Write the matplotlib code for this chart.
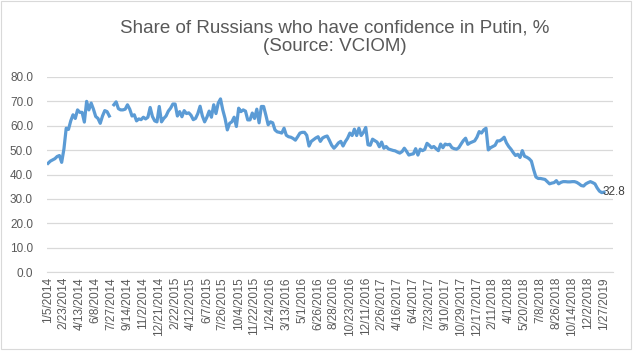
import numpy as np
import matplotlib.pyplot as plt
from matplotlib.patches import Rectangle

# weekly VCIOM readings (NaN = missing poll)
confidence = [
    44.6, 45.5, 46.0, 46.5, 47.4, 47.8, 45.0, 50.5, 59.0, 58.5,
    62.0, 64.5, 63.0, 66.5, 65.5, 65.5, 61.5, 70.0, 66.5, 69.3,
    66.8, 63.8, 63.0, 61.0, 64.0, 66.2, 65.8, 64.0, np.nan, 68.6,
    69.8, 67.0, 66.5, 66.5, 66.8, 68.6, 66.8, 64.0, 64.5, 62.0,
    62.8, 62.5, 63.5, 62.8, 63.5, 67.5, 63.8, 62.0, 61.6, 67.9,
    61.6, 63.0, 64.0, 66.0, 67.2, 68.9, 68.9, 64.0, 65.8, 63.7,
    66.2, 65.0, 65.3, 64.3, 62.5, 63.0, 65.0, 68.0, 64.0, 61.6,
    63.5, 66.0, 63.5, 68.6, 65.0, 69.3, 71.0, 66.5, 63.0, 58.3,
    61.0, 61.6, 63.5, 59.7, 67.2, 65.8, 66.5, 66.0, 62.4, 62.4,
    65.2, 63.0, 66.8, 61.2, 67.9, 67.9, 64.3, 60.4, 61.6, 61.2,
    58.3, 57.5, 57.3, 57.0, 59.0, 56.1, 55.5, 55.3, 54.8, 54.1,
    55.5, 57.0, 57.3, 57.3, 56.1, 51.7, 53.6, 54.3, 55.0, 55.5,
    53.6, 55.0, 55.5, 55.8, 54.0, 52.0, 50.8, 51.8, 53.0, 53.6,
    51.7, 53.5, 54.9, 57.0, 56.0, 58.6, 56.0, 59.0, 56.0, 57.3,
    59.3, 52.2, 52.0, 54.5, 53.9, 53.3, 51.4, 53.3, 50.8, 51.5,
    50.5, 50.2, 49.9, 49.7, 49.2, 48.8, 49.4, 50.8, 49.5, 48.0,
    48.3, 48.5, 50.6, 48.0, 50.4, 49.8, 50.3, 52.8, 52.0, 51.0,
    51.5, 50.6, 49.8, 52.5, 51.0, 52.5, 52.2, 52.4, 51.0, 50.6,
    50.4, 51.0, 52.5, 53.9, 54.9, 52.4, 53.0, 53.4, 53.8, 55.3,
    57.6, 57.0, 58.3, 59.0, 50.1, 51.0, 51.5, 52.0, 53.8, 53.8,
    54.4, 55.3, 53.0, 51.5, 50.4, 49.0, 47.8, 48.3, 47.0, 49.8,
    47.5, 47.1, 46.5, 45.5, 42.0, 39.0, 38.4, 38.4, 38.2, 38.0,
    37.1, 36.2, 36.5, 36.7, 37.5, 36.2, 36.8, 37.1, 37.1, 37.0,
    37.0, 37.1, 37.1, 36.8, 36.2, 35.5, 35.3, 36.2, 36.7, 37.1,
    36.7, 36.2, 34.5, 33.2, 32.6, 32.8,
]

# every 7th poll date is labelled on the axis
tick_labels = [
    '1/5/2014', '2/23/2014', '4/13/2014', '6/8/2014', '7/27/2014', '9/14/2014',
    '11/2/2014', '12/21/2014', '2/22/2015', '4/12/2015', '6/7/2015', '7/26/2015',
    '10/4/2015', '11/22/2015', '1/24/2016', '3/13/2016', '5/1/2016', '6/26/2016',
    '8/28/2016', '10/23/2016', '12/11/2016', '2/26/2017', '4/16/2017', '6/4/2017',
    '7/23/2017', '9/10/2017', '10/29/2017', '12/17/2017', '2/11/2018', '4/1/2018',
    '5/20/2018', '7/8/2018', '8/26/2018', '10/14/2018', '12/2/2018', '1/27/2019',
]

grey = '#595959'
plt.rcParams['font.family'] = ['Liberation Sans', 'DejaVu Sans']

fig = plt.figure(figsize=(6.34, 3.53), dpi=100)
ax = fig.add_axes([0.074, 0.229, 0.893, 0.553])

x = np.arange(len(confidence))
ax.plot(x, confidence, color='#5B9BD5', lw=2.3, solid_joinstyle='round')
ax.annotate(f'{confidence[-1]:.1f}', (x[-1], confidence[-1]), xytext=(-1, 0),
            textcoords='offset points', va='center', ha='left',
            fontsize=8.5, color='#404040')

ax.set_ylim(0, 80)
ax.set_yticks(np.arange(0, 81, 10))
ax.set_yticklabels([f'{v:.1f}' for v in np.arange(0, 81, 10)])
ax.set_xlim(-0.5, len(confidence) + 3)
ax.set_xticks(np.arange(0, len(confidence), 7))
ax.set_xticklabels(tick_labels, rotation=90)

ax.grid(axis='y', color='#d9d9d9', lw=0.9)
ax.set_axisbelow(True)
for side in ['top', 'right', 'left']:
    ax.spines[side].set_visible(False)
ax.spines['bottom'].set_color('#d9d9d9')
ax.tick_params(axis='both', length=0, labelsize=8.5, labelcolor=grey)
ax.tick_params(axis='y', pad=10)

fig.text(0.528, 0.895, 'Share of Russians who have confidence in Putin, %\n(Source: VCIOM)',
         ha='center', va='center', fontsize=13.5, color=grey, linespacing=1.15)

fig.patches.append(Rectangle((0.002, 0.012), 0.993, 0.984, transform=fig.transFigure,
                             fill=False, edgecolor='#d9d9d9', lw=0.8))

plt.savefig('out.png', dpi=100)
